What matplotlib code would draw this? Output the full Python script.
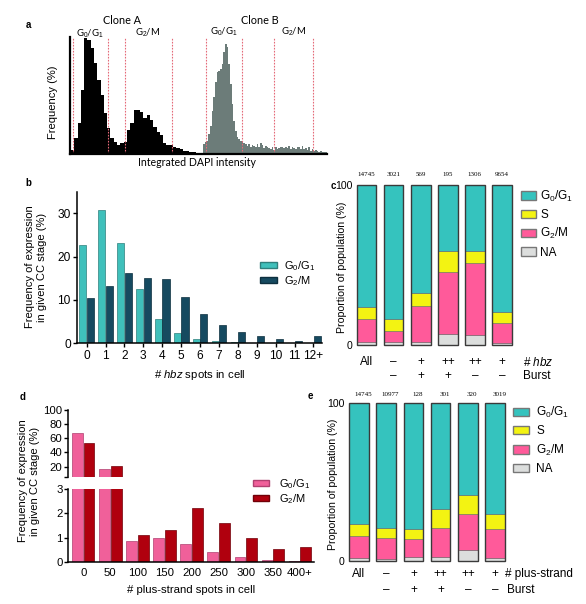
import matplotlib
matplotlib.use("Agg")
import matplotlib.pyplot as plt
from matplotlib.patches import Patch

# ---- panel a: DAPI histograms (frequency %, one value per bin)
clone_a_freq = [0.4, 1.6, 3.1, 6.4, 11.6, 11.4, 10.6, 9.1, 7.4, 5.9, 4.1, 2.6, 1.6, 1.2,
                0.9, 1.1, 1.2, 2.4, 3.1, 4.4, 4.4, 4.2, 3.6, 3.9, 3.4, 2.7, 2.2, 1.9,
                1.1, 0.9, 0.9, 0.7, 0.6, 0.5, 0.3, 0.3, 0.2, 0.2]
clone_b_freq = [1.0, 1.2, 1.3, 2.0, 2.8, 4.3, 5.7, 7.2, 8.2, 8.3, 8.5, 9.0, 10.2, 11.0,
                10.7, 9.0, 7.0, 5.0, 3.3, 2.3, 1.7, 1.5, 1.3, 1.2, 1.1, 1.0, 0.8, 1.0,
                0.7, 0.9, 0.8, 0.7, 1.0, 0.7, 1.1, 0.9, 0.6, 0.8, 0.7, 0.6, 0.5, 0.7,
                0.4, 0.7, 0.5, 0.6, 0.7, 0.7, 0.6, 0.7, 0.6, 0.8, 0.5, 0.7, 0.6, 0.5,
                0.7, 0.7, 0.5, 0.8, 0.5, 0.6, 0.4, 0.7, 0.3, 0.5, 0.3, 0.4, 0.3, 0.2,
                0.3, 0.2, 0.2, 0.2]
clone_a_gates = [0.7, 11.1, 16.3, 30.6]
clone_b_gates = [1.6, 23.2, 42.4, 65.8]

# ---- panel b: hbz spots per cell
hbz_spots = ["0", "1", "2", "3", "4", "5", "6", "7", "8", "9", "10", "11", "12+"]
b_g01 = [22.8, 30.7, 23.1, 12.5, 5.6, 2.3, 1.1, 0.6, 0.25, 0.08, 0.05, 0.0, 0.0]
b_g2m = [10.4, 13.2, 16.2, 15.0, 14.8, 10.8, 6.8, 4.2, 2.7, 1.6, 1.1, 0.55, 1.6]

# ---- panel c: cell cycle proportions by hbz / burst
c_hbz = ["All", "\u2013", "+", "++", "++", "+"]
c_burst = ["", "\u2013", "+", "+", "\u2013", "\u2013"]
c_counts = ["14745", "3021", "569", "195", "1306", "9654"]
c_na = [1.7, 2.0, 1.7, 6.7, 6.0, 1.0]
c_g2m = [14.3, 6.5, 22.7, 38.7, 45.0, 12.5]
c_s = [7.5, 7.5, 7.9, 13.1, 7.5, 7.3]

# ---- panel d: plus-strand spots per cell
plus_bins = ["0", "50", "100", "150", "200", "250", "300", "350", "400+"]
d_g01 = [67.0, 16.7, 0.85, 0.97, 0.72, 0.4, 0.22, 0.1, 0.05]
d_g2m = [54.0, 21.4, 1.12, 1.3, 2.2, 1.62, 1.0, 0.53, 0.63]

# ---- panel e: cell cycle proportions by plus-strand / burst
e_plus = ["All", "\u2013", "+", "++", "++", "+"]
e_burst = ["", "\u2013", "+", "+", "\u2013", "\u2013"]
e_counts = ["14745", "10977", "128", "301", "320", "3019"]
e_na = [1.7, 1.0, 2.3, 2.3, 6.7, 2.1]
e_g2m = [14.3, 13.3, 11.4, 18.3, 22.8, 17.9]
e_s = [7.4, 6.7, 6.7, 12.2, 12.4, 9.5]

W, H = 586, 604
plt.rcParams["font.family"] = ["Liberation Sans", "DejaVu Sans"]
plt.rcParams["mathtext.fontset"] = "custom"
plt.rcParams["mathtext.rm"] = "Liberation Sans"
plt.rcParams["mathtext.it"] = "Liberation Sans:italic"
plt.rcParams["mathtext.bf"] = "Liberation Sans:bold"

G01 = r"G$_0$/G$_1$"
G2M = r"G$_2$/M"
TEAL, YELLOW, PINK, GREY = "#35c3be", "#f3f312", "#ff5a9a", "#dcdedd"

fig = plt.figure(figsize=(W / 100, H / 100), dpi=100)


def px_axes(x0, y0, x1, y1):
    return fig.add_axes([x0 / W, 1 - y1 / H, (x1 - x0) / W, (y1 - y0) / H])


def px_text(x, y, s, **kw):
    kw.setdefault("ha", "center")
    kw.setdefault("va", "center")
    fig.text(x / W, 1 - y / H, s, **kw)


def px_legend(ax, handles, labels, x, y, **kw):
    ax.legend(handles, labels, loc="upper left", bbox_to_anchor=(x / W, 1 - y / H),
              bbox_transform=fig.transFigure, frameon=False, borderpad=0,
              borderaxespad=0, **kw)


# ================= panel a
axA = px_axes(70, 37, 201, 154)
axB = px_axes(203, 37, 327, 154)
for ax, freq, gates, color in [(axA, clone_a_freq, clone_a_gates, "black"),
                               (axB, clone_b_freq, clone_b_gates, "#6c7c79")]:
    ax.bar(range(len(freq)), freq, width=1.0, align="edge", color=color, linewidth=0)
    for g in gates:
        ax.axvline(g, color="#e46a78", ls=(0, (1.5, 1.2)), lw=0.8)
    ax.set_ylim(0, 11.75)
    ax.set_xticks([])
    ax.set_yticks([])
    for s in ["top", "right", "left"]:
        ax.spines[s].set_visible(False)
    ax.spines["bottom"].set_linewidth(1.6)
axA.set_xlim(-0.3, 39.5)
axB.set_xlim(-0.2, 74.2)
axA.spines["left"].set_visible(True)
axA.spines["left"].set_linewidth(1.6)

px_text(28, 25, "a", fontsize=7, fontweight="bold")
px_text(122, 20, "Clone A", family="Lato", fontsize=7.8)
px_text(260, 20, "Clone B", family="Lato", fontsize=7.8)
px_text(90, 34, G01, family="Lato", fontsize=6.8)
px_text(148, 33, G2M, family="Lato", fontsize=6.8)
px_text(224, 32, G01, family="Lato", fontsize=6.8)
px_text(294, 32, G2M, family="Lato", fontsize=6.8)
px_text(53, 102, "Frequency (%)", fontsize=8, rotation=90)
px_text(197, 163, "Integrated DAPI intensity", family="Lato", fontsize=7.6)

# ================= panel b
axb = px_axes(77, 191.7, 322, 343.3)
xb = range(len(hbz_spots))
axb.bar([i - 0.2 for i in xb], b_g01, 0.38, color="#3fc0bb", edgecolor="#2f7f7c", linewidth=0.5)
axb.bar([i + 0.2 for i in xb], b_g2m, 0.38, color="#164a60", edgecolor="#0d2f3e", linewidth=0.5)
axb.set_xlim(-0.51, 12.45)
axb.set_ylim(0, 35)
axb.set_xticks(list(xb), hbz_spots)
axb.set_yticks([0, 10, 20, 30])
for s in ["top", "right"]:
    axb.spines[s].set_visible(False)
for s in ["left", "bottom"]:
    axb.spines[s].set_linewidth(1.1)
axb.tick_params(labelsize=8.6, length=3, width=1.0, pad=1.5)
px_legend(axb, [Patch(facecolor="#3fc0bb", edgecolor="#2f7f7c"),
                Patch(facecolor="#164a60", edgecolor="#0d2f3e")], [G01, G2M],
          260, 259, fontsize=8, handlelength=1.5, handleheight=0.55,
          handletextpad=0.7, labelspacing=0.1)
px_text(28, 183, "b", fontsize=7, fontweight="bold")
px_text(36, 267, "Frequency of expression\nin given CC stage (%)", fontsize=8, rotation=90)
px_text(200, 375, r"# $\mathit{hbz}$ spots in cell", fontsize=8.2)


# ================= panels c and e (stacked proportions)
def stacked(ax, na, g2m, s_frac, counts, count_y, count_dx):
    x = range(len(na))
    g01 = [100 - a - b - c for a, b, c in zip(na, g2m, s_frac)]
    bottom = [0.0] * len(na)
    for vals, col in [(na, GREY), (g2m, PINK), (s_frac, YELLOW), (g01, TEAL)]:
        ax.bar(x, vals, 0.72, bottom=bottom, color=col, edgecolor="#666666",
               linewidth=0.4, clip_on=False)
        bottom = [b + v for b, v in zip(bottom, vals)]
    ax.bar(x, bottom, 0.72, fill=False, edgecolor="#3a3a3a", linewidth=1.0, clip_on=False)
    for i, n in enumerate(counts):
        ax.text(i + count_dx, count_y, n, ha="center", va="center", fontsize=5,
                family="Liberation Serif", clip_on=False)
    ax.set_ylim(0, 100)
    ax.set_xticks([])
    ax.set_yticks([0, 100])
    ax.tick_params(axis="y", length=0, pad=2, labelsize=7.6)
    for s in ax.spines.values():
        s.set_visible(False)


legend_handles = [Patch(facecolor=c, edgecolor="#777777") for c in (TEAL, YELLOW, PINK, GREY)]
legend_labels = [G01, "S", G2M, "NA"]

axc = px_axes(355, 185, 512, 345)
stacked(axc, c_na, c_g2m, c_s, c_counts, 106.3, 0.0)
axc.set_xlim(-0.43, 5.37)
px_legend(axc, legend_handles, legend_labels, 520.7, 188.5, fontsize=8.5,
          handlelength=1.3, handleheight=0.7, handletextpad=0.35, labelspacing=0.45)
for i, (a, b) in enumerate(zip(c_hbz, c_burst)):
    axc.text(i, -10.6, a, ha="center", va="center", fontsize=8.5, clip_on=False)
    axc.text(i, -19.4, b, ha="center", va="center", fontsize=8.5, clip_on=False)
px_text(523, 362, r"# $\mathit{hbz}$", fontsize=8.5, ha="left")
px_text(523, 376, "Burst", fontsize=8.5, ha="left")
px_text(333, 186, "c", fontsize=7, fontweight="bold")
px_text(342, 267, "Proportion of population (%)", fontsize=7.6, rotation=90)

axe = px_axes(347, 402.7, 506, 561)
stacked(axe, e_na, e_g2m, e_s, e_counts, 104.9, 0.15)
axe.set_xlim(-0.44, 5.4)
px_legend(axe, legend_handles, legend_labels, 513.3, 405, fontsize=8.5,
          handlelength=1.3, handleheight=0.7, handletextpad=0.65, labelspacing=0.45)
for i, (a, b) in enumerate(zip(e_plus, e_burst)):
    axe.text(i, -8.2, a, ha="center", va="center", fontsize=8.5, clip_on=False)
    axe.text(i, -18.3, b, ha="center", va="center", fontsize=8.5, clip_on=False)
px_text(505, 574, "# plus-strand", fontsize=8.5, ha="left")
px_text(507, 590, "Burst", fontsize=8.5, ha="left")
px_text(310, 396, "e", fontsize=7, fontweight="bold")
px_text(333, 484, "Proportion of population (%)", fontsize=7.6, rotation=90)

# ================= panel d (broken y axis)
axd_top = px_axes(68.3, 410, 313.6, 477)
axd = px_axes(68.3, 489, 313.6, 562)
xd = range(len(plus_bins))
for ax in (axd_top, axd):
    ax.bar([i - 0.215 for i in xd], d_g01, 0.4, color="#f0609a", edgecolor="#b04070", linewidth=0.5)
    ax.bar([i + 0.215 for i in xd], d_g2m, 0.4, color="#b0000e", edgecolor="#700008", linewidth=0.5)
    ax.set_xlim(-0.55, 8.5)
    for s in ["top", "right"]:
        ax.spines[s].set_visible(False)
    ax.spines["left"].set_linewidth(1.1)
    ax.tick_params(labelsize=8.2, length=3, width=1.0, pad=1.2)
axd_top.set_ylim(5.4, 100)
axd_top.spines["bottom"].set_visible(False)
axd_top.set_xticks([])
axd_top.set_yticks([5.4, 20, 40, 60, 80, 100], ["", "20", "40", "60", "80", "100"])
axd.set_ylim(0, 3)
axd.spines["bottom"].set_linewidth(1.1)
axd.set_yticks([0, 1, 2, 3])
axd.set_xticks(list(xd), plus_bins)
axd.tick_params(axis="x", length=0, pad=4)
px_legend(axd, [Patch(facecolor="#f0609a", edgecolor="#b04070"),
                Patch(facecolor="#b0000e", edgecolor="#700008")], [G01, G2M],
          253.3, 477, fontsize=8, handlelength=1.4, handleheight=0.55,
          handletextpad=0.9, labelspacing=0.1)
px_text(23, 397, "d", fontsize=7, fontweight="bold")
px_text(29, 481, "Frequency of expression\nin given CC stage (%)", fontsize=8, rotation=90)
px_text(191, 590, "# plus-strand spots in cell", fontsize=8.2)

fig.savefig("out.png", dpi=100)
